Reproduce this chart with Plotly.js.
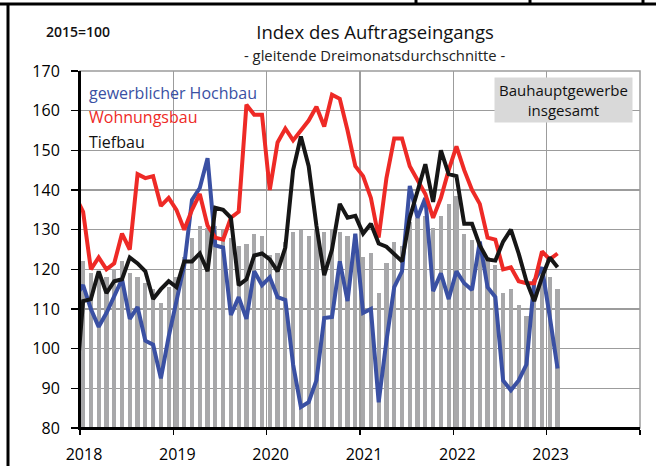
<!DOCTYPE html>
<html><head><meta charset="utf-8">
<script src="https://cdn.plot.ly/plotly-3.0.1.min.js"></script>
<style>body{margin:0;background:#fff}#c{width:656px;height:466px}</style>
</head><body><div id="c"></div>
<script>
// Months from Dec 2017 to Feb 2023 (Dec 2017 only for the clipped line start)
const firstYear = 2017, firstMonth = 12, nMonths = 63;
const months = [];
for (let k = 0; k < nMonths; k++) {
  const m0 = firstMonth - 1 + k;
  const y = firstYear + Math.floor(m0 / 12), m = (m0 % 12) + 1;
  months.push(y + '-' + (m < 10 ? '0' + m : m));
}
const yearLabels = ['2018','2019','2020','2021','2022','2023',''];
const yearTicks = [0,12,24,36,48,60,72];

const gewerblicherHochbau = [113,116,110,105.5,109,113,117.5,107.5,110.5,102,101,92.5,103,112,121,137.5,140.5,148,126,125.5,108.5,113,107.5,119.5,116,118,113,112.3,96,85.3,86.5,92,107.7,108,122,112,129,109,110,86.5,102,115.5,119.5,141,133,138,114.5,119,112.5,119.5,116.5,114.8,127,115.5,113,92,89.5,92,96,117,120.5,108,95];
const wohnungsbau = [138.5,134.5,120,123,120,121.5,129,125,144,143,143.5,136,138,135,130,135,139,131,128,127.5,133,134.5,161.5,159,159,140,152,155.5,152.5,155,157.5,161,156,164,163,155,146,143.5,138,128,143,153,153,146,142.5,139,133,138,145,151,145,140,136.5,128,127.5,120,120.5,117,116.5,116.5,124.5,122.5,124];
const tiefbau = [88,112,112.5,119.5,114,117,117.5,123,121.5,119.5,112.5,115,117,115.5,122,122,124,119.5,135.5,135,133,116,117.5,123.5,124,122.5,119.5,125.5,145,153.5,146,131,118.5,125,136.5,133,133.5,129,131.5,126.5,125.7,124,122,133,140,146.5,137,150,144,143.5,131.5,131.5,126,122.5,122.2,127,130,124,117,112,118,123,120.5];
const insgesamt = [null,122,119,118.5,118,120,122,119,118,116.5,115,111.5,115.5,118,123,128,131,130.5,131,130,128,126,126.5,129,128.5,123.5,124,127,129.5,130,128.5,130,129.5,130,129.5,128.5,129,123,124,114,121.5,127,126,132,133,133.5,130.5,133.5,136.5,138.5,129,127.5,125,123,121,114,115,111,108.3,117.5,119.5,118,115];

// month label -> position on the axis (months after Jan 2018, mid-slot offset)
const xpos = months.map(s => { const [y, m] = s.split('-').map(Number); return (y - 2018) * 12 + (m - 1) + 0.4; });

// pixel helpers for layout placement
const W = 656, H = 466, L = 80, R = 16, T = 71, B = 38;
const pw = W - L - R, ph = H - T - B;
const px = x => (x - L) / pw, py = y => (H - B - y) / ph;

const traces = [
  {type:'bar', x:xpos, y:insgesamt, width:0.55, marker:{color:'#a8a8aa'}, hoverinfo:'skip'},
  {type:'scatter', mode:'lines', x:xpos, y:gewerblicherHochbau, line:{color:'#3a50a3', width:4}},
  {type:'scatter', mode:'lines', x:xpos, y:wohnungsbau, line:{color:'#ee2a26', width:4}},
  {type:'scatter', mode:'lines', x:xpos, y:tiefbau, line:{color:'#161616', width:4}}
];

const F = '"Open Sans", "Noto Sans", sans-serif';
const frame = {type:'line', xref:'paper', yref:'paper', line:{color:'#000', width:3}, layer:'above'};
const layout = {
  width:W, height:H, margin:{l:L, r:R, t:T, b:B}, showlegend:false,
  paper_bgcolor:'#fff', plot_bgcolor:'#fff', bargap:0,
  font:{family:F, color:'#111'},
  title:{text:'Index des Auftragseingangs', font:{family:F, size:18.5, color:'#111', weight:500}, x:375/W, xanchor:'center', xref:'container', y:1-33/H, yanchor:'middle', yref:'container'},
  xaxis:{range:[0,72], tickvals:yearTicks, ticktext:yearLabels, showgrid:true, gridcolor:'#9c9c9c', gridwidth:1.5,
         showline:true, linecolor:'#000', linewidth:2, ticks:'outside', ticklen:5, tickcolor:'#000', tickwidth:1.5,
         tickfont:{size:16, color:'#000'}, ticklabelstandoff:6, ticklabelshift:4, zeroline:false, fixedrange:true},
  yaxis:{range:[80,170], dtick:10, tick0:80, showgrid:true, gridcolor:'#9c9c9c', gridwidth:1.5,
         showline:true, linecolor:'#000', linewidth:2, ticks:'outside', ticklen:7, tickcolor:'#000', tickwidth:1.5,
         tickfont:{size:16, color:'#000'}, ticklabelstandoff:8, zeroline:false, fixedrange:true},
  shapes:[
    {type:'rect', xref:'paper', yref:'paper', x0:0, x1:1, y0:0, y1:1, line:{color:'#9c9c9c', width:1.5}, layer:'below'},
    Object.assign({}, frame, {x0:px(0), x1:px(W), y0:py(4), y1:py(4)}),
    Object.assign({}, frame, {x0:px(8), x1:px(8), y0:py(4), y1:py(H)}),
    Object.assign({}, frame, {x0:px(416), x1:px(416), y0:py(0), y1:py(4)}),
    Object.assign({}, frame, {x0:px(530), x1:px(530), y0:py(0), y1:py(4)}),
    Object.assign({}, frame, {x0:px(643), x1:px(643), y0:py(0), y1:py(4)}),
    {type:'line', xref:'paper', yref:'paper', x0:0, x1:0, y0:0, y1:1, line:{color:'#000', width:2}, layer:'above'},
    {type:'line', xref:'paper', yref:'paper', x0:0, x1:1, y0:0, y1:0, line:{color:'#000', width:2}, layer:'above'}
  ],
  annotations:[
    {text:'- gleitende Dreimonatsdurchschnitte -', xref:'paper', yref:'paper', x:px(374), y:py(55), xanchor:'center', yanchor:'middle', showarrow:false, font:{size:14.8, color:'#222'}},
    {text:'2015=100', xref:'paper', yref:'paper', x:px(44), y:py(32), xanchor:'left', yanchor:'middle', showarrow:false, font:{size:14, color:'#111', weight:600}},
    {text:'gewerblicher Hochbau', xref:'paper', yref:'paper', x:px(87), y:py(93), xanchor:'left', yanchor:'middle', showarrow:false, font:{size:16, color:'#3a50a3'}},
    {text:'Wohnungsbau', xref:'paper', yref:'paper', x:px(87), y:py(117), xanchor:'left', yanchor:'middle', showarrow:false, font:{size:16, color:'#ee2a26'}},
    {text:'Tiefbau', xref:'paper', yref:'paper', x:px(87), y:py(142), xanchor:'left', yanchor:'middle', showarrow:false, font:{size:16, color:'#111'}},
    {text:'Bauhauptgewerbe<br>insgesamt', xref:'paper', yref:'paper', x:px(563), y:py(100), xanchor:'center', yanchor:'middle', showarrow:false,
     bgcolor:'#d9d9d9', width:137, height:44, borderpad:0, font:{size:15, color:'#111'}}
  ]
};
Plotly.newPlot('c', traces, layout, {staticPlot:true, displayModeBar:false});
</script></body></html>
